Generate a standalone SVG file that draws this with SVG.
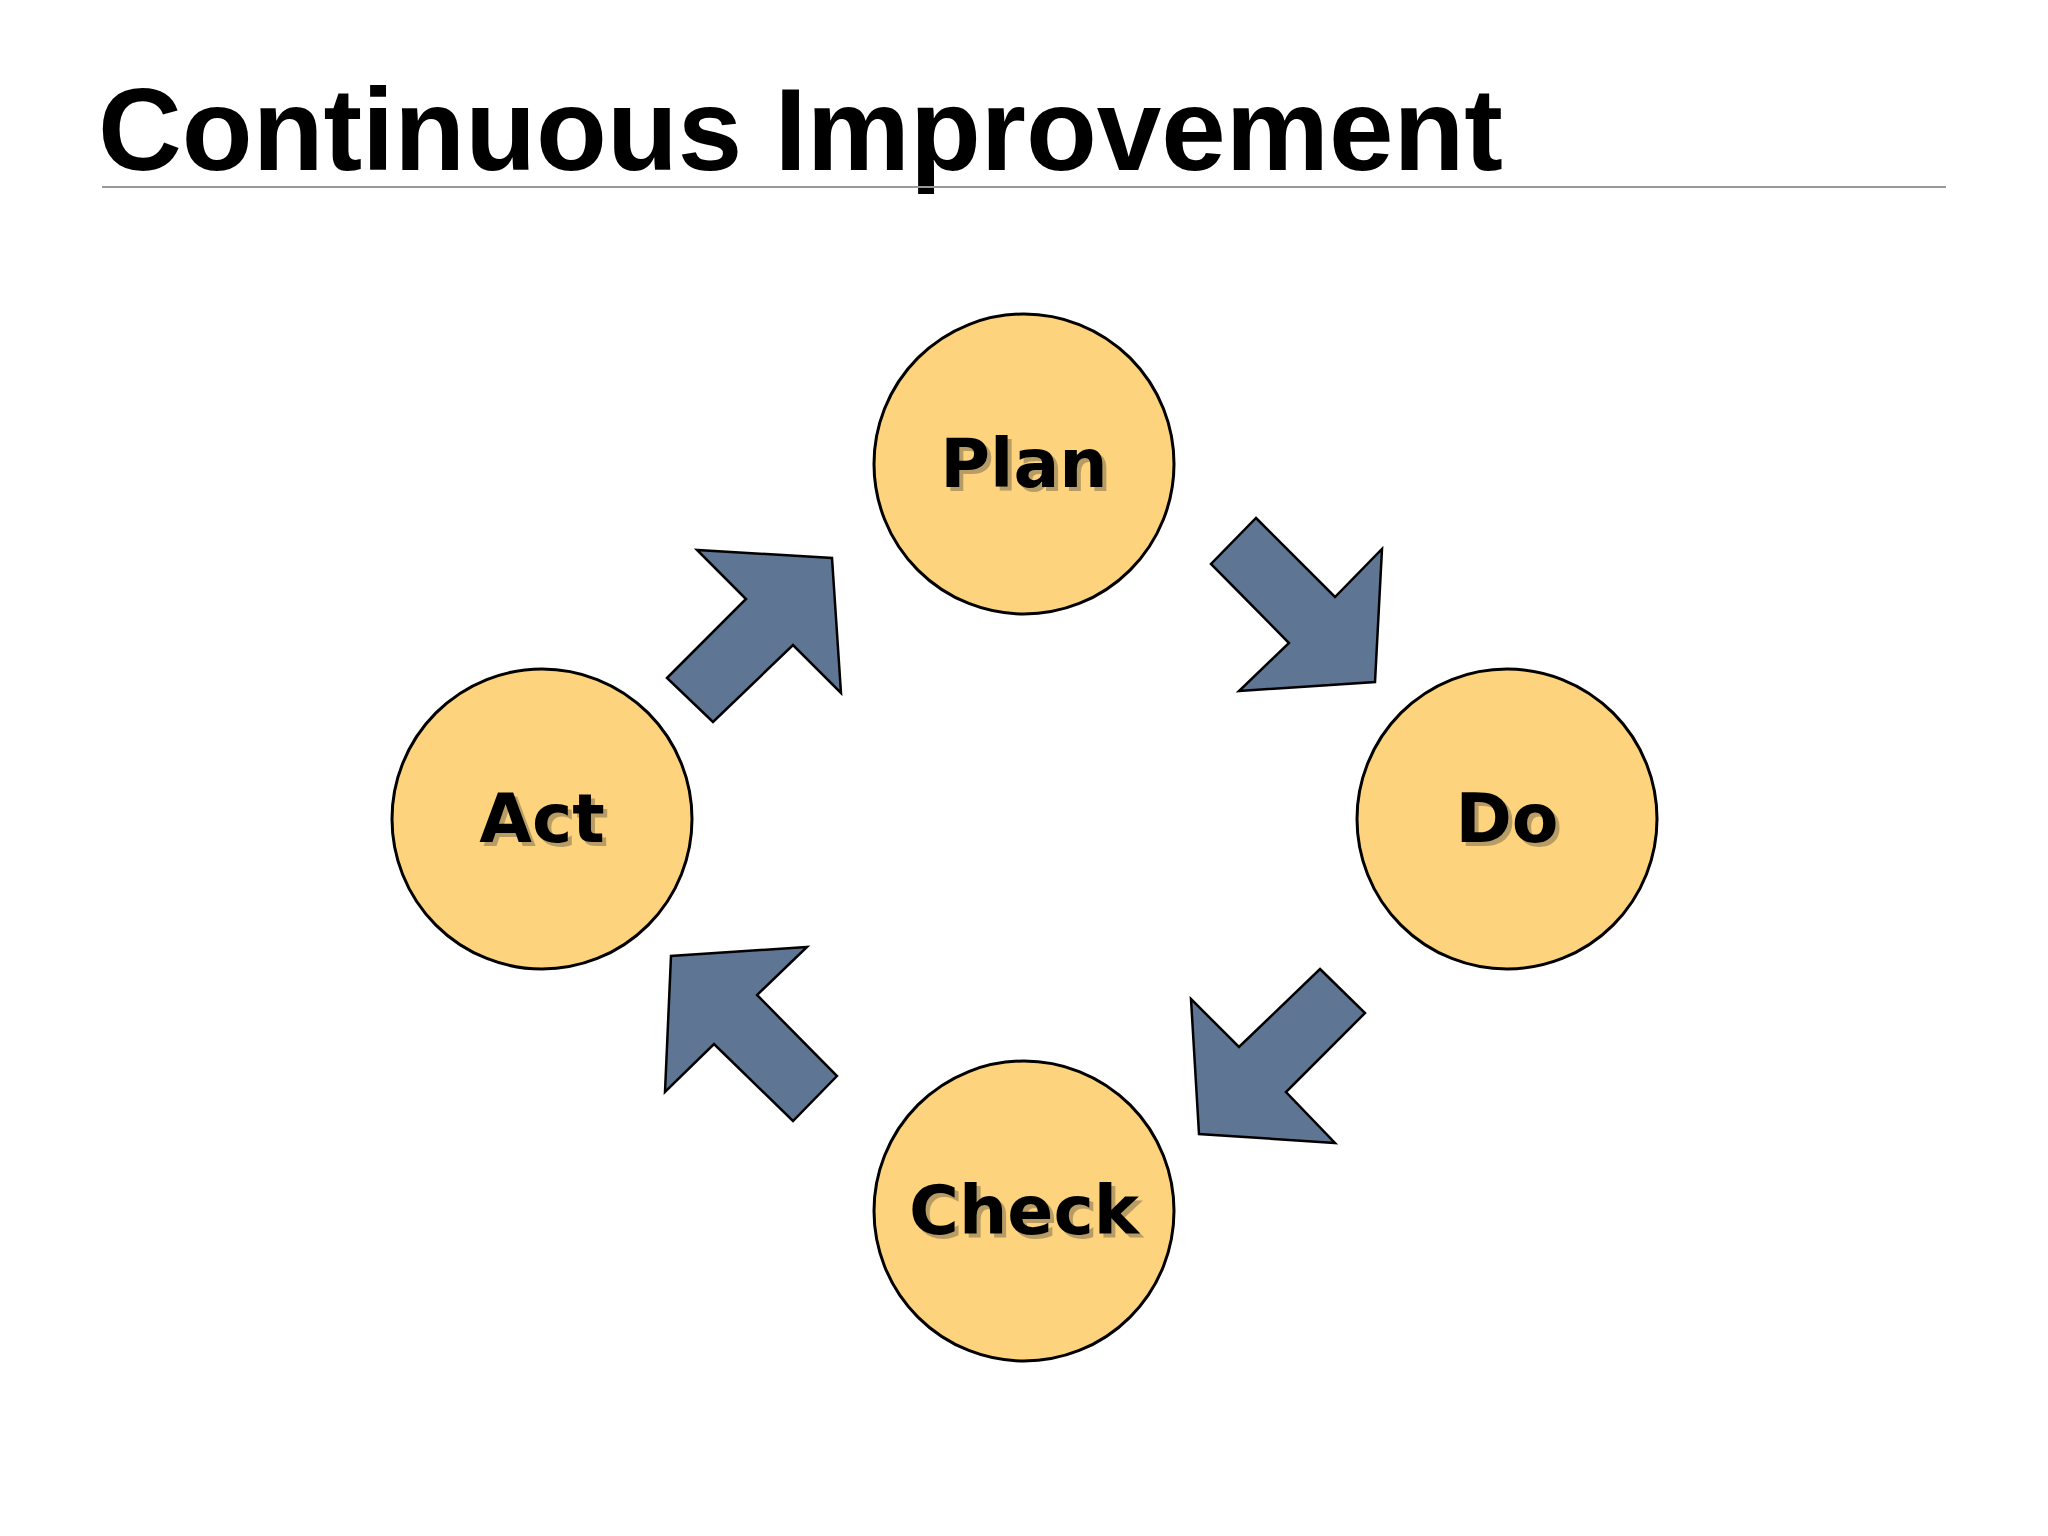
<svg xmlns="http://www.w3.org/2000/svg" width="2048" height="1536" viewBox="0 0 2048 1536">
<style>
.n{fill:#fdd37e;stroke:#000;stroke-width:3}
.l{font-family:"DejaVu Sans",sans-serif;font-weight:bold;font-size:68px;text-anchor:middle;fill:#000}
.s{fill:#8a7a55;opacity:0.6}
.a{fill:#5e7594;stroke:#000;stroke-width:2.5;stroke-linejoin:miter}
</style>
<rect width="2048" height="1536" fill="#fff"/>
<text x="98" y="170" font-family="'Liberation Sans',Arial,sans-serif" font-weight="bold" font-size="116">Continuous Improvement</text>
<line x1="102" y1="187" x2="1946" y2="187" stroke="#999" stroke-width="2"/>
<g id="connectors">
<polygon class="a" points="1256,518 1335,597 1382,549 1375,682 1239,691 1289,643 1211,564"/>
<polygon class="a" points="1320,969 1365,1013 1286,1092 1335,1143 1199,1134 1191,999 1239,1047"/>
<polygon class="a" points="837,1076 793,1121 714,1044 665,1092 671,956 807,947 757,995"/>
<polygon class="a" points="667,678 746,599 697,550 832,558 841,693 793,645 713,722"/>
</g>
<g id="plan"><circle class="n" cx="1024" cy="464" r="150"/><text class="l s" x="1028" y="491">Plan</text><text class="l" x="1024" y="487">Plan</text></g>
<g id="do"><circle class="n" cx="1507" cy="819" r="150"/><text class="l s" x="1511" y="846">Do</text><text class="l" x="1507" y="842">Do</text></g>
<g id="check"><circle class="n" cx="1024" cy="1211" r="150"/><text class="l s" x="1028" y="1238">Check</text><text class="l" x="1024" y="1234">Check</text></g>
<g id="act"><circle class="n" cx="542" cy="819" r="150"/><text class="l s" x="546" y="846">Act</text><text class="l" x="542" y="842">Act</text></g>
</svg>
